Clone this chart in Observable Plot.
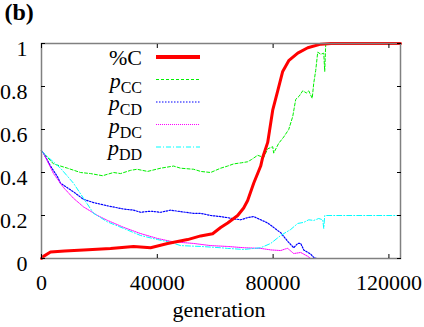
<!DOCTYPE html>
<html><head><meta charset="utf-8">
<script src="https://cdn.jsdelivr.net/npm/d3@7"></script>
<script src="https://cdn.jsdelivr.net/npm/@observablehq/plot@0.6"></script>
<style>
html,body{margin:0;padding:0;background:#fff;}
svg{display:block}
svg, svg text, svg tspan { font-family: "Liberation Serif", "Times New Roman", Times, serif !important; }
</style>
</head><body><div id="chart"></div>
<script>
// ---- data ----
const xTicks = [0, 40000, 80000, 120000];
const yTicks = [0, 0.2, 0.4, 0.6, 0.8, 1];
const xLabel = "generation";
const panelLabel = "(b)";

// %C
const genC = [0, 690, 3110, 8000, 14520, 23850, 31800, 37680, 43560, 50470, 54970, 59110, 61880, 64300, 67760, 69830, 71210, 73290, 75710, 76400, 78130, 79860, 81590, 83310, 85390, 88500, 91960, 96450, 100000, 124000];
const valC = [0, 0.01, 0.03, 0.035, 0.04, 0.047, 0.056, 0.05, 0.07, 0.088, 0.105, 0.115, 0.144, 0.165, 0.2, 0.235, 0.27, 0.35, 0.43, 0.47, 0.54, 0.69, 0.78, 0.87, 0.92, 0.955, 0.98, 0.997, 1, 1];
// pCC
const genCC = [0, 690, 4150, 8990, 13480, 16940, 21090, 24890, 27310, 30770, 33000, 36640, 41140, 45630, 48050, 52550, 55000, 58420, 61880, 64300, 66370, 69000, 71210, 72500, 74670, 76750, 78130, 79860, 80200, 81900, 83660, 85390, 86770, 87810, 89000, 90230, 91500, 92300, 93500, 94030, 94720, 95410, 96450, 97490, 97830, 98180, 124000];
const valCC = [0.5, 0.49, 0.44, 0.42, 0.40, 0.395, 0.385, 0.40, 0.395, 0.41, 0.415, 0.405, 0.42, 0.43, 0.42, 0.415, 0.405, 0.40, 0.42, 0.43, 0.44, 0.445, 0.45, 0.46, 0.48, 0.47, 0.51, 0.52, 0.49, 0.535, 0.565, 0.6, 0.66, 0.74, 0.755, 0.78, 0.77, 0.78, 0.745, 0.815, 0.875, 0.96, 0.95, 0.955, 0.87, 1.0, 1.0];
// pCD
const genCD = [0, 690, 3110, 5530, 6570, 11060, 14520, 18000, 22820, 28350, 31800, 34220, 37680, 41140, 44600, 47020, 52550, 55000, 58420, 61880, 64300, 66370, 68790, 71210, 73290, 75710, 78130, 79170, 81590, 82620, 85040, 87120, 88500, 89540, 90570, 92990, 94030, 95000, 124000];
const valCD = [0.5, 0.49, 0.43, 0.38, 0.35, 0.31, 0.275, 0.26, 0.245, 0.23, 0.225, 0.215, 0.22, 0.215, 0.225, 0.22, 0.21, 0.21, 0.20, 0.195, 0.19, 0.185, 0.18, 0.19, 0.195, 0.18, 0.165, 0.155, 0.13, 0.12, 0.08, 0.05, 0.07, 0.07, 0.04, 0.02, 0.005, 0, 0];
// pDC
const genDC = [0, 690, 4150, 7600, 11060, 14520, 19360, 22820, 28350, 34220, 40100, 44600, 48050, 52550, 58420, 64300, 70000, 75710, 79170, 82620, 84350, 85040, 86080, 87120, 89540, 91960, 92990, 124000];
const valDC = [0.5, 0.49, 0.395, 0.33, 0.28, 0.24, 0.2, 0.177, 0.145, 0.116, 0.093, 0.08, 0.075, 0.07, 0.06, 0.056, 0.05, 0.047, 0.04, 0.037, 0.045, 0.047, 0.035, 0.023, 0.028, 0.01, 0, 0];
// pDD
const genDD = [0, 690, 6570, 11060, 14520, 17980, 22820, 28350, 34220, 40100, 44600, 48050, 54970, 61880, 64300, 69830, 75710, 79170, 82620, 86080, 88500, 90570, 92300, 94030, 95760, 97140, 97490, 97830, 124000];
const valDD = [0.5, 0.49, 0.42, 0.35, 0.28, 0.21, 0.17, 0.14, 0.107, 0.088, 0.075, 0.06, 0.056, 0.05, 0.047, 0.042, 0.05, 0.07, 0.107, 0.135, 0.163, 0.168, 0.18, 0.177, 0.186, 0.18, 0.14, 0.2, 0.2];

const series = [
  {key: "C",  gen: genC,  val: valC,  color: "#ff0000", width: 3,   dash: null,       label: [["%C", false]]},
  {key: "CC", gen: genCC, val: valCC, color: "#00f000", width: 1,   dash: "3,2",      label: [["p", true], ["CC", "sub"]]},
  {key: "CD", gen: genCD, val: valCD, color: "#0000ff", width: 1.2, dash: "1.5,1.5",  label: [["p", true], ["CD", "sub"]]},
  {key: "DC", gen: genDC, val: valDC, color: "#ff00ff", width: 1,   dash: "1,1",      label: [["p", true], ["DC", "sub"]]},
  {key: "DD", gen: genDD, val: valDD, color: "#00ffff", width: 1,   dash: "5,2,1,2",  label: [["p", true], ["DD", "sub"]]}
];

const rows = s => s.gen.map((g, i) => ({gen: g, value: s.val[i]}));
const lineMarks = series.slice(1).concat(series.slice(0, 1)).map(s =>
  Plot.line(rows(s), {x: "gen", y: "value", stroke: s.color, strokeWidth: s.width, strokeDasharray: s.dash})
);

const chart = Plot.plot({
  width: 424, height: 327,
  marginLeft: 41, marginRight: 24, marginTop: 43, marginBottom: 69,
  style: "font-family: 'Liberation Serif', serif; font-size: 22px; background: white; color: black; overflow: visible;",
  x: {domain: [0, 124000]},
  y: {domain: [0, 1]},
  marks: [
    ...lineMarks,
    Plot.frame({stroke: "#808080", strokeWidth: 1.5}),
    Plot.axisX({anchor: "bottom", ticks: xTicks, tickSize: -4, tickFormat: () => "", label: null}),
    Plot.axisX({anchor: "top", ticks: xTicks, tickSize: -4, tickFormat: () => "", label: null}),
    Plot.axisY({anchor: "left", ticks: yTicks, tickSize: -4, tickFormat: () => "", label: null}),
    Plot.axisY({anchor: "right", ticks: yTicks, tickSize: -4, tickFormat: () => "", label: null}),
    Plot.axisX({anchor: "bottom", ticks: xTicks, tickSize: 0, tickPadding: 16, tickFormat: d => String(d), label: null, fontSize: 22}),
    Plot.axisY({anchor: "left", ticks: yTicks, tickSize: 0, tickPadding: 14, tickFormat: d => String(d), dy: 5, label: null, fontSize: 22}),
    Plot.text([panelLabel], {text: d => d, frameAnchor: "top-left", dx: -37, dy: -41, textAnchor: "start", lineAnchor: "top", fontSize: 24, fontWeight: "bold"})
  ]
});
document.getElementById("chart").appendChild(chart);

const svg = d3.select(chart);
svg.append("text").attr("x", 219).attr("y", 317).attr("font-size", 22).attr("text-anchor", "middle").text(xLabel);

const leg = svg.append("g");
series.forEach((s, i) => {
  const ly = 57 + i * 22.5;
  leg.append("line").attr("x1", 156).attr("x2", 200).attr("y1", ly).attr("y2", ly)
    .attr("stroke", s.color).attr("stroke-width", s.width === 3 ? 4 : 1.2)
    .attr("stroke-dasharray", s.dash);
  const t = leg.append("text").attr("x", 142).attr("y", ly + 8).attr("text-anchor", "end").attr("font-size", 22);
  s.label.forEach(([str, kind]) => {
    const ts = t.append("tspan").text(str);
    if (kind === true) ts.attr("font-style", "italic");
    if (kind === "sub") ts.attr("font-size", 16).attr("dy", 5);
  });
});
</script>
</body></html>
